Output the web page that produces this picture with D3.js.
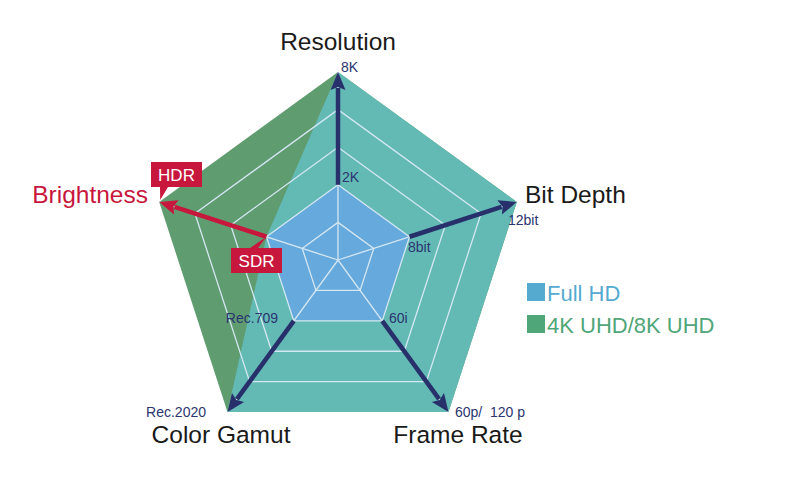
<!DOCTYPE html>
<html lang="en">
<head>
    <meta charset="utf-8">
    <title>Radar chart</title>
    <style>
        body { margin: 0; background: #ffffff; }
        svg text { font-family: 'Liberation Sans', Arial, Helvetica, sans-serif; }
    </style>
    <script src="https://d3js.org/d3.v7.min.js" charset="utf-8"></script>
</head>
<body>
    <svg id="chart" width="800" height="485"></svg>

    <script type="text/javascript">
      // data
      var axes = ["Resolution", "Bit Depth", "Frame Rate", "Color Gamut", "Brightness"]
      var fullHD = [0.4, 0.4, 0.4, 0.4, 0.4]
      var uhdSDR = [1, 1, 1, 1, 0.4]
      var uhdHDR = [1, 1, 1, 1, 1]
      var innerTicks = ["2K", "8bit", "60i", "Rec.709", "SDR"]
      var outerTicks = ["8K", "12bit", "60p/  120 p", "Rec.2020", "HDR"]
      var levels = [0.2, 0.4, 0.6, 0.8]
      var legendNames = ["Full HD", "4K UHD/8K UHD"]

      var cx = 338, cy = 260
      var svg = d3.select("#chart")
      var g = svg.append("g").attr("transform", "translate(" + cx + "," + cy + ")")

      var r = d3.scaleLinear().domain([0, 1]).range([0, 188])
      var ang = d3.scaleLinear().domain([0, axes.length]).range([0, 2 * Math.PI])
      var pt = function(i, v) {
        var a = ang(i)
        return [r(v) * Math.sin(a), -r(v) * Math.cos(a)]
      }
      var radar = d3.lineRadial()
        .angle(function(d, i) { return ang(i) })
        .radius(function(d) { return r(d) })
        .curve(d3.curveLinearClosed)

      // areas
      g.append("path").attr("d", radar(uhdHDR)).attr("fill", "#5f9c70")
      g.append("path").attr("d", radar(uhdSDR)).attr("fill", "#63bab5")
      g.append("path").attr("d", radar(fullHD)).attr("fill", "#66a9dc")

      // grid
      levels.forEach(function(l) {
        g.append("path")
          .attr("d", radar(axes.map(function() { return l })))
          .attr("fill", "none")
          .attr("stroke", "#d4e7f2")
          .attr("stroke-width", 1.3)
      })
      axes.forEach(function(a, i) {
        var p = pt(i, 1)
        g.append("line")
          .attr("x1", 0).attr("y1", 0)
          .attr("x2", p[0]).attr("y2", p[1])
          .attr("stroke", "#d4e7f2")
          .attr("stroke-width", 1.3)
      })

      // arrows from Full HD to 4K/8K
      function arrow(p0, p1, color) {
        var dx = p1[0] - p0[0], dy = p1[1] - p0[1]
        var len = Math.sqrt(dx * dx + dy * dy)
        var ux = dx / len, uy = dy / len
        var hl = 18, hw = 7.5
        var bx = p1[0] - ux * hl, by = p1[1] - uy * hl
        g.append("line")
          .attr("x1", p0[0]).attr("y1", p0[1])
          .attr("x2", bx + ux * 2).attr("y2", by + uy * 2)
          .attr("stroke", color)
          .attr("stroke-width", 4.5)
        g.append("path")
          .attr("d", "M" + p1[0] + "," + p1[1] +
            "L" + (bx - uy * hw) + "," + (by + ux * hw) +
            "L" + (bx + ux * 3) + "," + (by + uy * 3) +
            "L" + (bx + uy * hw) + "," + (by - ux * hw) + "Z")
          .attr("fill", color)
      }
      axes.forEach(function(a, i) {
        arrow(pt(i, fullHD[i]), pt(i, uhdHDR[i]), i == 4 ? "#c8173c" : "#27306a")
      })

      // axis titles
      var navy = "#2b3570", red = "#c8173c"
      var titlePos = [[0, -210, "middle"], [187, -57, "start"], [120, 183, "middle"], [-117, 183, "middle"], [-190, -57, "end"]]
      axes.forEach(function(a, i) {
        g.append("text")
          .attr("x", titlePos[i][0]).attr("y", titlePos[i][1])
          .attr("text-anchor", titlePos[i][2])
          .attr("font-size", 24.5)
          .attr("fill", i == 4 ? red : "#1a1a1a")
          .text(a)
      })

      // inner / outer tick labels
      var innerPos = [[4, -78, "start"], [70, -8, "start"], [51, 63, "start"], [-60, 63, "end"], null]
      var outerPos = [[3, -188, "start"], [170, -35, "start"], [117, 157, "start"], [-132, 157, "end"], null]
      innerTicks.forEach(function(t, i) {
        if (!innerPos[i]) return
        g.append("text")
          .attr("x", innerPos[i][0]).attr("y", innerPos[i][1])
          .attr("text-anchor", innerPos[i][2])
          .attr("font-size", 14)
          .attr("fill", navy)
          .text(t)
      })
      outerTicks.forEach(function(t, i) {
        if (!outerPos[i]) return
        g.append("text")
          .attr("x", outerPos[i][0]).attr("y", outerPos[i][1])
          .attr("text-anchor", outerPos[i][2])
          .attr("font-size", 14)
          .attr("fill", navy)
          .style("white-space", "pre")
          .text(t)
      })

      // HDR / SDR callouts
      function callout(txt, bx, by, tip, up) {
        var w = 51, h = 25
        g.append("path")
          .attr("d", up
            ? "M" + (bx + 19) + "," + by + "L" + tip[0] + "," + tip[1] + "L" + (bx + 27) + "," + by + "Z"
            : "M" + (bx + 9) + "," + (by + h) + "L" + tip[0] + "," + tip[1] + "L" + (bx + 17) + "," + (by + h) + "Z")
          .attr("fill", red)
        g.append("rect")
          .attr("x", bx).attr("y", by)
          .attr("width", w).attr("height", h)
          .attr("fill", red)
        g.append("text")
          .attr("x", bx + w / 2).attr("y", by + 18.5)
          .attr("text-anchor", "middle")
          .attr("font-size", 17)
          .attr("fill", "#ffffff")
          .text(txt)
      }
      callout(outerTicks[4], -187, -98, pt(4, uhdHDR[4]).map(function(v, k) { return v + (k ? -2 : 1) }), false)
      callout(innerTicks[4], -107, -12, pt(4, fullHD[4]), true)

      // legend
      var legColors = ["#55aad0", "#4fa679"]
      var leg = svg.append("g").attr("transform", "translate(527,283)")
      legendNames.forEach(function(n, i) {
        leg.append("rect")
          .attr("x", 0).attr("y", i * 32)
          .attr("width", 18).attr("height", 18)
          .attr("fill", legColors[i])
        leg.append("text")
          .attr("x", 20).attr("y", i * 32 + 18)
          .attr("font-size", 22)
          .attr("fill", legColors[i])
          .text(n)
      })
    </script>
</body>
</html>
